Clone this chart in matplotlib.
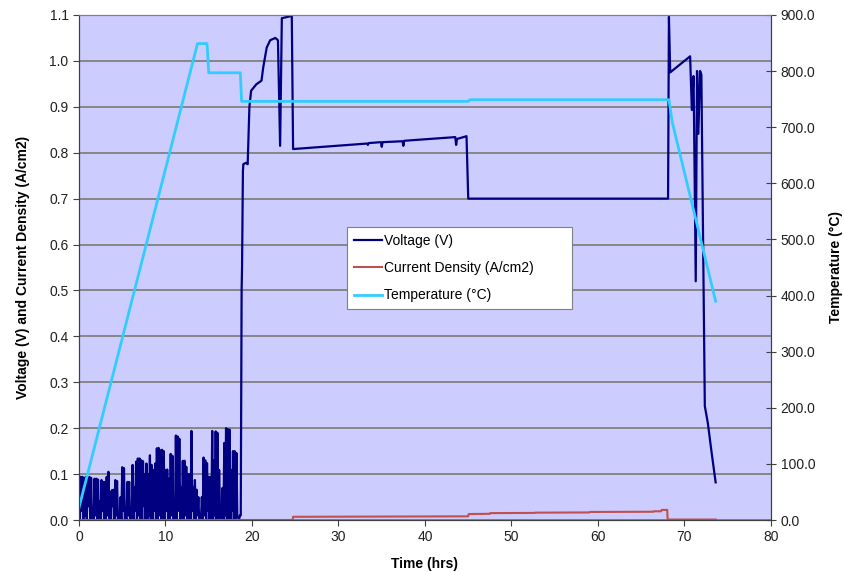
import numpy as np
import matplotlib
matplotlib.use("Agg")
import matplotlib.pyplot as plt
from matplotlib.ticker import FormatStrFormatter, MultipleLocator

# Start-up noise on the voltage trace (0 - 18.6 hrs): spike tops every 0.2 h,
# and the low points between them
noise_peaks = [
    0.090, 0.094, 0.094, 0.092, 0.094, 0.092, 0.094, 0.092, 0.010, 0.090,
    0.090, 0.088, 0.040, 0.087, 0.083, 0.083, 0.094, 0.105, 0.060, 0.065,
    0.066, 0.087, 0.085, 0.015, 0.050, 0.115, 0.113, 0.007, 0.083, 0.083,
    0.010, 0.120, 0.072, 0.127, 0.134, 0.134, 0.130, 0.128, 0.100, 0.123,
    0.100, 0.141, 0.120, 0.109, 0.123, 0.156, 0.157, 0.152, 0.153, 0.150,
    0.109, 0.110, 0.090, 0.144, 0.140, 0.005, 0.184, 0.182, 0.177, 0.072,
    0.129, 0.129, 0.116, 0.100, 0.100, 0.194, 0.072, 0.087, 0.066, 0.050,
    0.013, 0.050, 0.136, 0.130, 0.124, 0.094, 0.094, 0.194, 0.130, 0.193,
    0.190, 0.109, 0.005, 0.070, 0.168, 0.200, 0.198, 0.197, 0.109, 0.150,
    0.150, 0.146, 0.005, 0.010,
]
noise_lows = [
    0.00, 0.02, 0.00, 0.01, 0.00, 0.03, 0.00, 0.00, 0.00, 0.01,
    0.00, 0.00, 0.00, 0.02, 0.00, 0.00, 0.01, 0.00, 0.00, 0.03,
    0.00, 0.01, 0.00, 0.00, 0.00, 0.02, 0.00, 0.00, 0.01, 0.00,
    0.00, 0.00, 0.02, 0.00, 0.01, 0.00, 0.00, 0.03, 0.00, 0.00,
    0.01, 0.00, 0.00, 0.02, 0.00, 0.00, 0.01, 0.00, 0.00, 0.00,
    0.02, 0.00, 0.00, 0.01, 0.00, 0.00, 0.00, 0.02, 0.00, 0.00,
    0.00, 0.01, 0.00, 0.00, 0.00, 0.02, 0.00, 0.00, 0.01, 0.00,
    0.00, 0.00, 0.01, 0.00, 0.02, 0.00, 0.00, 0.00, 0.01, 0.00,
    0.00, 0.02, 0.00, 0.00, 0.01, 0.00, 0.00, 0.00, 0.02, 0.00,
    0.00, 0.01, 0.00,
]

# Voltage after light-off (hrs, V)
volt_hrs = [18.7, 18.8, 18.85, 18.95, 19.0, 19.3, 19.5, 19.7, 19.9, 20.5,
            21.1, 21.3, 21.7, 22.1, 22.7, 23.0, 23.25, 23.45, 24.6, 24.75,
            33.3, 33.4, 33.5, 34.9, 35.0, 35.1, 37.4, 37.5, 37.6, 43.5,
            43.6, 43.7, 44.8, 45.0, 68.1, 68.2, 68.35, 70.65, 70.85, 71.05,
            71.3, 71.45, 71.6, 71.8, 71.95, 72.35, 72.7, 73.1, 73.6]
volt_vals = [0.01, 0.50, 0.55, 0.76, 0.775, 0.778, 0.775, 0.90, 0.935, 0.949,
             0.957, 0.986, 1.029, 1.045, 1.050, 1.045, 0.815, 1.093, 1.098, 0.808,
             0.820, 0.817, 0.821, 0.823, 0.813, 0.823, 0.825, 0.815, 0.826, 0.834,
             0.817, 0.830, 0.836, 0.700, 0.700, 1.096, 0.975, 1.010, 0.893, 0.967,
             0.520, 0.978, 0.841, 0.978, 0.970, 0.248, 0.211, 0.152, 0.082]

# Current density (hrs, A/cm2)
cur_hrs = [0.0, 24.7, 24.75, 45.0, 45.05, 47.5, 47.55, 52.7, 52.75, 59.0,
           59.05, 66.4, 66.45, 67.3, 67.35, 68.0, 68.05, 73.6]
cur_vals = [0.0, 0.0, 0.007, 0.008, 0.013, 0.0135, 0.015, 0.0155, 0.016, 0.0165,
            0.0175, 0.018, 0.019, 0.019, 0.022, 0.022, 0.001, 0.001]

# Furnace temperature (hrs, deg C)
temp_hrs = [0.0, 13.7, 14.8, 15.0, 18.65, 18.8, 45.0, 45.2, 68.2, 68.6, 73.6]
temp_vals = [22, 849, 849, 797, 797, 746, 746, 749, 749, 708, 390]

# interleave spike tops and lows on a 0.1 h grid
noise_v = np.empty(len(noise_peaks) + len(noise_lows))
noise_v[0::2] = noise_peaks
noise_v[1::2] = noise_lows
noise_t = np.round(np.arange(len(noise_v)) * 0.1, 1)

time_v = np.concatenate([noise_t, volt_hrs])
voltage = np.concatenate([noise_v, volt_vals])

plt.rcParams["font.family"] = ["Liberation Sans", "DejaVu Sans"]
plt.rcParams["font.size"] = 10
plt.rcParams["path.simplify"] = False

fig = plt.figure(figsize=(8.44, 5.72), dpi=100)
fig.subplots_adjust(left=0.0936, right=0.9135, bottom=0.0909, top=0.9738)
ax = fig.add_subplot(111)
ax.set_facecolor("#CCCCFF")

lv, = ax.plot(time_v, voltage, color="#000080", lw=1.6, label="Voltage (V)")
lc, = ax.plot(cur_hrs, cur_vals, color="#C0504D", lw=1.5,
              label="Current Density (A/cm2)")

ax.set_xlim(0, 80)
ax.set_ylim(0, 1.1)
ax.xaxis.set_major_locator(MultipleLocator(10))
ax.yaxis.set_major_locator(MultipleLocator(0.1))
ax.yaxis.set_major_formatter(FormatStrFormatter("%.1f"))
ax.grid(True, axis="y", color="#808080", lw=1.3)
ax.set_axisbelow(True)
ax.tick_params(direction="out", length=4, color="#404040", labelcolor="#202020")
ax.set_xlabel("Time (hrs)", fontweight="bold", labelpad=9)
ax.set_ylabel("Voltage (V) and Current Density (A/cm2)", fontweight="bold",
              labelpad=14)

ax2 = ax.twinx()
lt, = ax2.plot(temp_hrs, temp_vals, color="#33CCFF", lw=2.0,
               label="Temperature (\u00b0C)")
ax2.set_ylim(0, 900)
ax2.yaxis.set_major_locator(MultipleLocator(100))
ax2.yaxis.set_major_formatter(FormatStrFormatter("%.1f"))
ax2.tick_params(direction="inout", length=7, color="#404040", labelcolor="#202020")
ax2.set_ylabel("Temperature (\u00b0C)", fontweight="bold", labelpad=10)

for a in (ax, ax2):
    for side in ("left", "right", "bottom"):
        a.spines[side].set_color("#404040")
    a.spines["top"].set_color("#808080")

leg = ax2.legend([lv, lc, lt], [lv.get_label(), lc.get_label(), lt.get_label()],
                 loc="upper left", bbox_to_anchor=(0.387, 0.42, 0.325, 0.16),
                 mode="expand", fancybox=False, framealpha=1.0,
                 edgecolor="#808080", handlelength=2.0, handletextpad=0.15,
                 labelspacing=0.95, borderpad=0.5, borderaxespad=0.0)
leg.get_frame().set_linewidth(0.8)

fig.savefig("out.png", dpi=100)
